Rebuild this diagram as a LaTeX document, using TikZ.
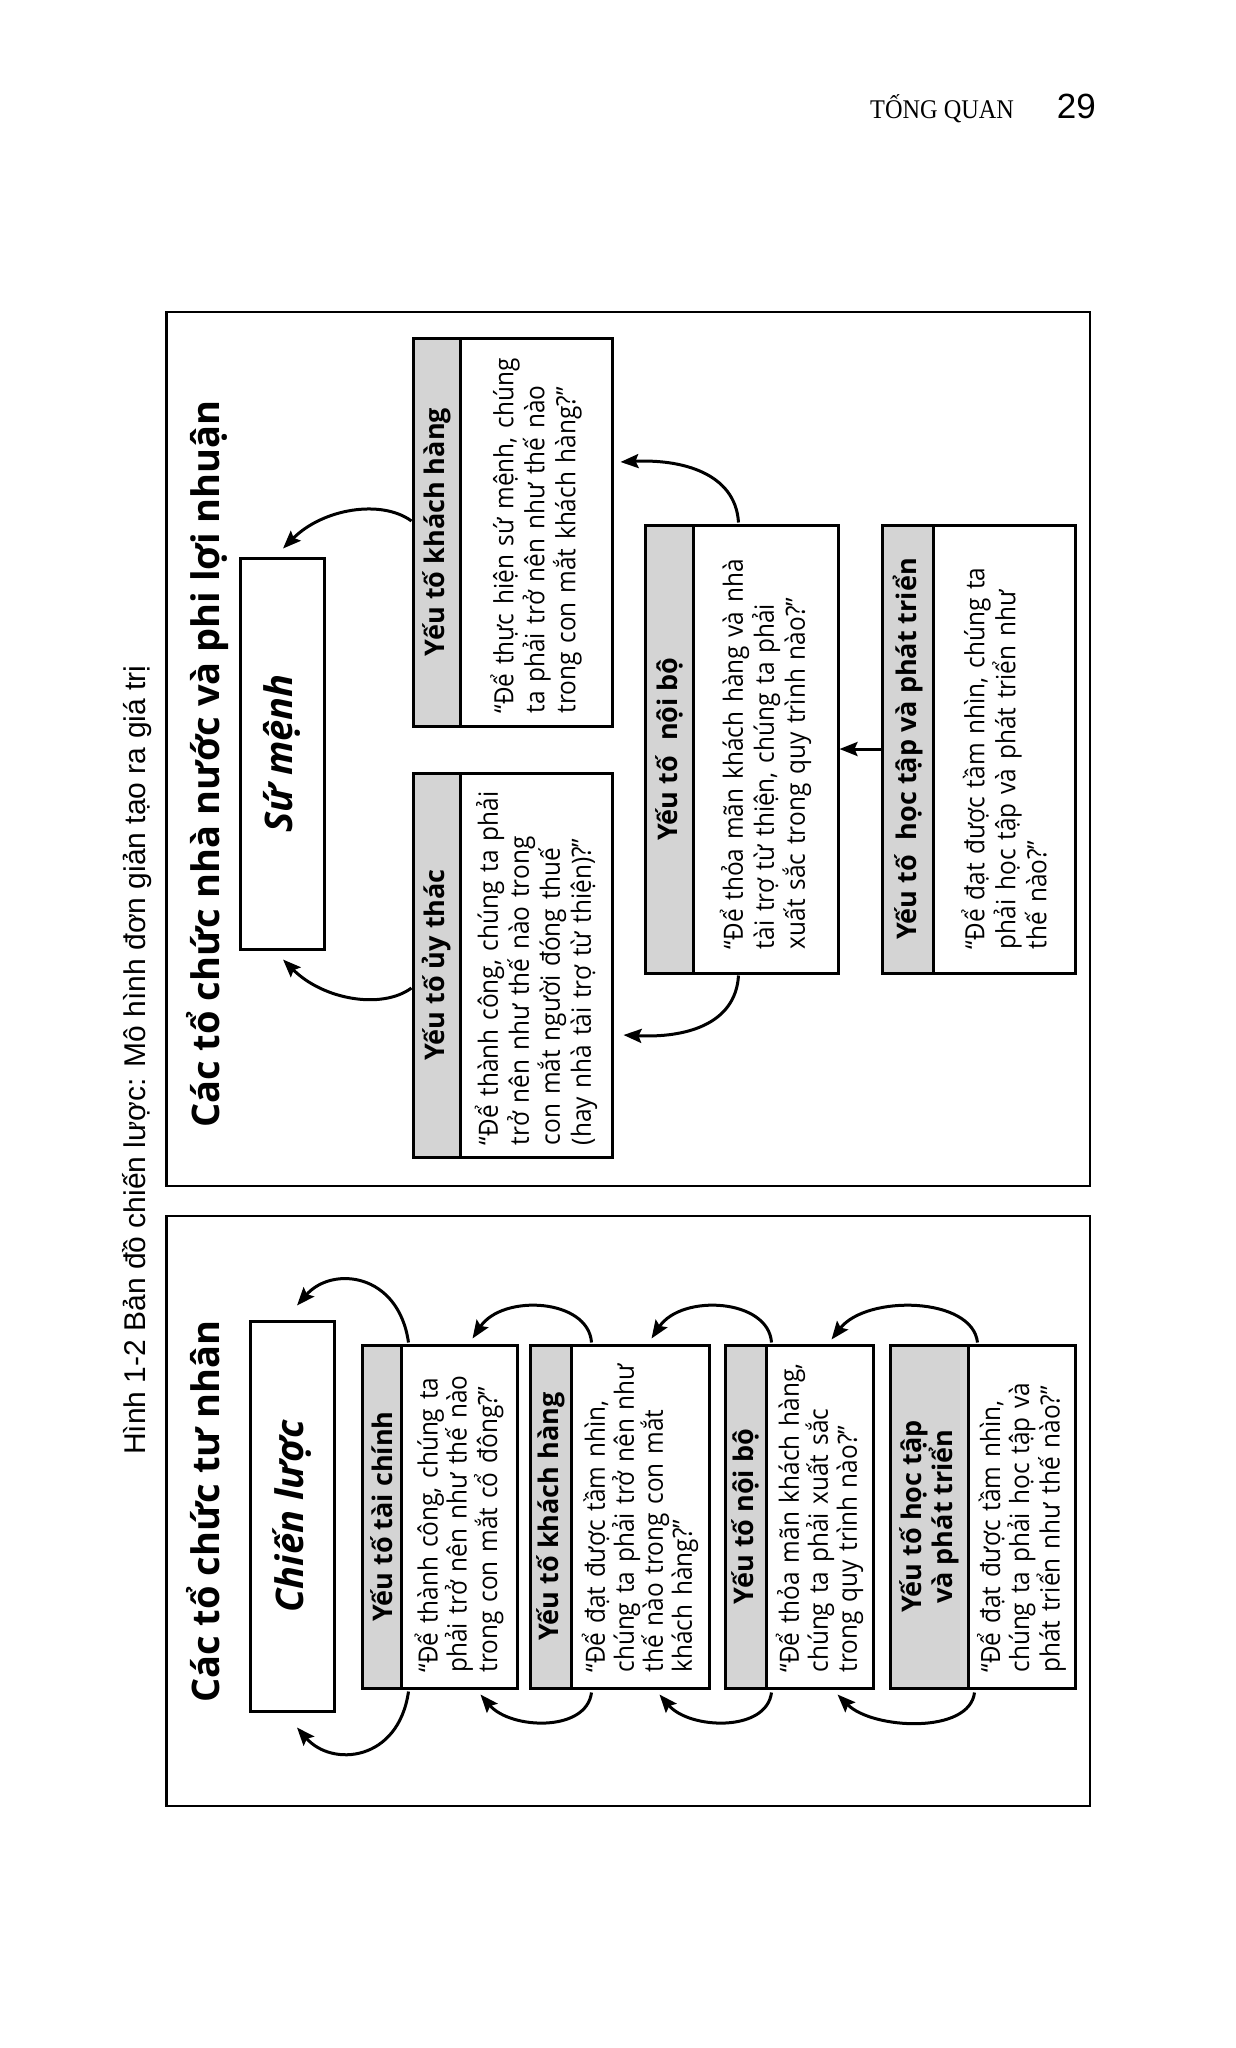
\documentclass[tikz,border=0pt]{standalone}
\usepackage{fontspec}
\setmainfont{Open Sans}
\newfontfamily\bodyfont[FakeStretch=0.92]{Open Sans}
\newfontfamily\capfont{Liberation Sans}
\newfontfamily\headfont[FakeStretch=0.9]{Liberation Serif}
\usetikzlibrary{arrows.meta,calc}
\newcommand{\jl}[1]{\makebox[\linewidth][s]{#1}\\}
\tikzset{
  frm/.style={draw, line width=2.5pt, inner sep=0pt},
  hdr/.style={draw, line width=3pt, fill=black!17, rotate=90, inner sep=0pt, align=center,
    font=\bfseries\fontsize{27}{30}\selectfont},
  bodyL/.style={draw, line width=3pt, rotate=90, inner sep=0pt, align=left,
    font=\bodyfont\fontsize{26.5}{29}\selectfont},
  bodyR/.style={draw, line width=3pt, rotate=90, inner sep=0pt, align=left,
    font=\bodyfont\fontsize{26.5}{31}\selectfont},
  bigbox/.style={draw, line width=3pt, rotate=90, inner sep=0pt,
    font=\bfseries\itshape\fontsize{38}{44}\selectfont},
  ttl/.style={rotate=90, anchor=base west, inner sep=0pt, font=\bfseries\fontsize{38}{44}\selectfont},
  arr/.style={line width=3pt, -{Stealth[length=18pt,width=14pt,inset=3pt]}}
}
\begin{document}
\begin{tikzpicture}[x=1pt,y=-1pt]
\useasboundingbox (0,0) rectangle (1236,2048);
\fill[white] (0,0) rectangle (1236,2048);

% page header
\node[anchor=base west, inner sep=0pt, font=\headfont\fontsize{27}{32}\selectfont] (hd) at (870,118) {TỐNG QUAN};
\node[anchor=base east, inner sep=0pt, font=\capfont\fontsize{35}{40}\selectfont] (pg) at (1096,118) {29};

% caption
\node[rotate=90, anchor=base west, inner sep=0pt, font=\capfont\fontsize{30}{36}\selectfont] (cap) at (145,1455)
  {Hình 1-2 Bản đồ chiến lược: Mô hình đơn giản tạo ra giá trị};

% ================= right panel (public / non-profit) =================
\node[frm, minimum width=923.5pt, minimum height=874pt] (frR) at (628.25,749) {};
\node[ttl] (tR) at (219,1128) {Các tổ chức nhà nước và phi lợi nhuận};
\node[bigbox, minimum width=391pt, minimum height=84pt] (sm) at (282,753.5) {Sứ mệnh};

\node[hdr, minimum width=388pt, minimum height=47pt] (khh) at (436.5,532) {Yếu tố khách hàng};
\node[bodyR, minimum width=388pt, minimum height=152pt, text width=363pt] (khb) at (536,532)
  {\jl{“Để thực hiện sứ mệnh, chúng}\jl{ta phải trở nên như thế nào}trong con mắt khách hàng?”};

\node[hdr, minimum width=384pt, minimum height=47pt] (uth) at (436.5,965) {Yếu tố ủy thác};
\node[bodyR, minimum width=384pt, minimum height=152pt, text width=360pt] (utb) at (536,965)
  {\jl{“Để thành công, chúng ta phải}\jl{trở nên như thế nào trong}\jl{con mắt người đóng thuế}(hay nhà tài trợ từ thiện)?”};

\node[hdr, minimum width=448pt, minimum height=48pt] (nbh) at (669,749) {Yếu tố\hspace{0.3em} nội bộ};
\node[bodyR, minimum width=448pt, minimum height=145pt, text width=400pt] (nbb) at (765.5,749)
  {\jl{“Để thỏa mãn khách hàng và nhà}\jl{tài trợ từ thiện, chúng ta phải}xuất sắc trong quy trình nào?”};

\node[hdr, minimum width=448pt, minimum height=51pt] (hth) at (907.5,749) {Yếu tố\hspace{0.3em} học tập và phát triển};
\node[bodyR, minimum width=448pt, minimum height=142pt, text width=400pt] (htb) at (1004,749)
  {\jl{“Để đạt được tầm nhìn, chúng ta}\jl{phải học tập và phát triển như}thế nào?”};

\draw[arr] ($(khh.north)+(0,-11)$) .. controls +(-30,-22) and +(40,-40) .. ($(sm.east)+(1,-8)$);
\draw[arr] ($(uth.north)+(0,23)$) .. controls +(-30,22) and +(40,40) .. ($(sm.west)+(1,9)$);
\draw[arr] ($(nbb.north east)+(47,-1)$) .. controls +(-3,-50) and +(60,-3) .. ($(khb.south)+(7,-70)$);
\draw[arr] ($(nbb.north west)+(47,1)$) .. controls +(-3,50) and +(60,3) .. ($(utb.south)+(10,70)$);
\draw[arr] (hth.north) -- (nbb.south);

% ================= left panel (private) =================
\node[frm, minimum width=923.5pt, minimum height=590pt] (frL) at (628.25,1511) {};
\node[ttl] (tL) at (219,1703) {Các tổ chức tư nhân};
\node[bigbox, minimum width=390pt, minimum height=84pt] (cl) at (292,1516) {Chiến lược};

\node[hdr, minimum width=343pt, minimum height=39pt] (b1h) at (381.5,1516.5) {Yếu tố tài chính};
\node[bodyL, minimum width=343pt, minimum height=116pt, text width=312pt] (b1b) at (459,1516.5)
  {\jl{“Để thành công, chúng ta}\jl{phải trở nên như thế nào}trong con mắt cổ đông?”};

\node[hdr, minimum width=343pt, minimum height=41pt] (b2h) at (550.5,1516.5) {Yếu tố khách hàng};
\node[bodyL, minimum width=343pt, minimum height=138pt, text width=312pt] (b2b) at (640,1516.5)
  {\jl{“Để đạt được tầm nhìn,}\jl{chúng ta phải trở nên như}\jl{thế nào trong con mắt}khách hàng?”};

\node[hdr, minimum width=343pt, minimum height=41pt] (b3h) at (745.5,1516.5) {Yếu tố nội bộ};
\node[bodyL, minimum width=343pt, minimum height=107pt, text width=312pt] (b3b) at (819.5,1516.5)
  {\jl{“Để thỏa mãn khách hàng,}\jl{chúng ta phải xuất sắc}trong quy trình nào?”};

\node[hdr, minimum width=343pt, minimum height=78pt] (b4h) at (929,1516.5) {Yếu tố học tập\\và phát triển};
\node[bodyL, minimum width=343pt, minimum height=107pt, text width=312pt] (b4b) at (1021.5,1516.5)
  {\jl{“Để đạt được tầm nhìn,}\jl{chúng ta phải học tập và}phát triển như thế nào?”};

% top arcs
\draw[arr] ($(b1b.north east)+(9,-1)$) .. controls +(-10,-70) and +(35,-40) .. ($(cl.east)+(5,-14)$);
\draw[arr] ($(b2b.north east)+(22,-1)$) .. controls +(-3,-44) and +(30,-45) .. ($(b1b.north east)+(73,-5)$);
\draw[arr] ($(b3b.north east)+(7,-1)$) .. controls +(-3,-44) and +(30,-45) .. ($(b2b.north east)+(82,-5)$);
\draw[arr] ($(b4b.north east)+(11,-1)$) .. controls +(-5,-46) and +(35,-45) .. ($(b3b.north east)+(67,-4)$);
% bottom arcs
\draw[arr] ($(b1b.north west)+(9,2)$) .. controls +(-10,70) and +(35,40) .. ($(cl.west)+(5,15)$);
\draw[arr] ($(b2b.north west)+(22,3)$) .. controls +(-5,40) and +(30,35) .. ($(b1b.north west)+(81,5)$);
\draw[arr] ($(b3b.north west)+(7,3)$) .. controls +(-5,40) and +(30,35) .. ($(b2b.north west)+(90,5)$);
\draw[arr] ($(b4b.north west)+(8,3)$) .. controls +(-5,42) and +(35,35) .. ($(b3b.north west)+(73,5)$);
\end{tikzpicture}
\end{document}
